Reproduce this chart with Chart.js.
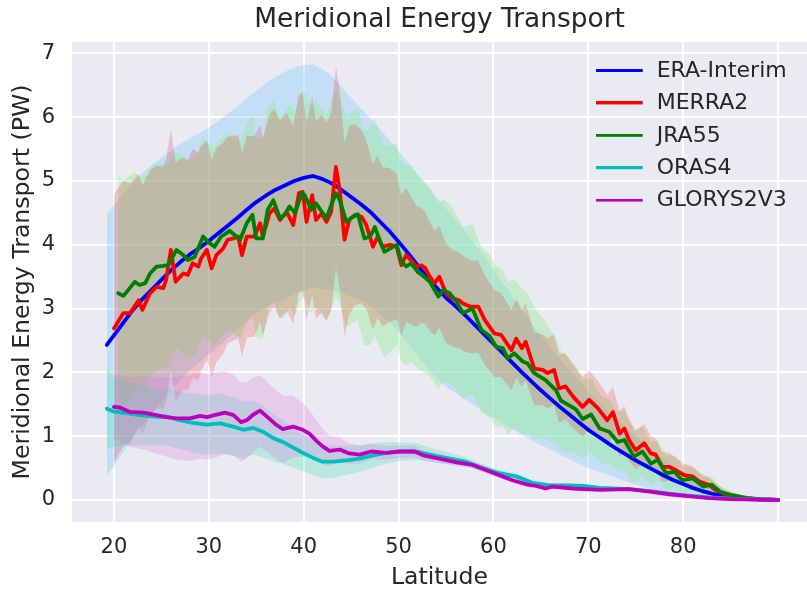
<!DOCTYPE html>
<html><head><meta charset="utf-8">
<script src="https://cdn.jsdelivr.net/npm/chart.js@4.4.0/dist/chart.umd.min.js"></script>
<style>html,body{margin:0;padding:0;background:#fff;overflow:hidden}canvas{display:block}</style>
</head><body>
<canvas id="c" width="807" height="592"></canvas>
<script>
const xTicks = [20,30,40,50,60,70,80,90];
const yTicks = [0,1,2,3,4,5,6,7];
const seriesNames = ['ERA-Interim','MERRA2','JRA55','ORAS4','GLORYS2V3'];

const eraLat = [19.25,20,21,22,23,24,25,26,27,28,29,30,31,32,33,34,35,36,37,38,39,40,41,42,43,44,45,46,47,48,49,50,51,52,53,54,55,56,57,58,59,60,61,62,63,64,65,66,67,68,69,70,71,72,73,74,75,76,77,78,79,80,81,82,83,84,85,86,87,88,89,90];
const eraVal = [2.43,2.58,2.78,2.98,3.15,3.3,3.45,3.6,3.73,3.85,3.95,4.06,4.18,4.3,4.42,4.55,4.67,4.77,4.86,4.93,5.0,5.05,5.08,5.03,4.96,4.86,4.75,4.64,4.52,4.37,4.22,4.05,3.87,3.68,3.5,3.33,3.17,3.04,2.9,2.75,2.6,2.45,2.3,2.15,2.0,1.86,1.72,1.59,1.46,1.34,1.22,1.1,1.0,0.9,0.8,0.71,0.62,0.54,0.46,0.38,0.31,0.25,0.19,0.14,0.1,0.07,0.05,0.03,0.02,0.01,0.004,0];
const eraSpread = [2.05,2.05,2.03,2.0,1.98,1.95,1.92,1.88,1.85,1.82,1.8,1.78,1.77,1.76,1.75,1.75,1.75,1.76,1.77,1.78,1.78,1.77,1.75,1.72,1.68,1.62,1.56,1.5,1.47,1.45,1.43,1.42,1.42,1.42,1.42,1.42,1.4,1.36,1.32,1.27,1.22,1.16,1.1,1.04,0.98,0.92,0.86,0.8,0.75,0.7,0.65,0.6,0.55,0.5,0.46,0.42,0.38,0.34,0.3,0.26,0.22,0.19,0.16,0.13,0.1,0.08,0.06,0.04,0.03,0.02,0.01,0];

const merraLat = [20,21,21.7,22.6,23,23.8,24.5,25.2,25.5,26,26.5,27.3,27.8,28.3,28.9,29.2,29.8,30.3,30.8,31.5,32,32.6,33.1,33.5,34,34.8,35.4,35.7,36.4,36.9,37.5,38.2,38.9,39.5,39.9,40.3,40.9,41.3,41.9,42.4,42.9,43.4,43.8,44.3,44.8,45.4,46.1,46.6,47.3,47.8,48.3,49.1,49.8,50.3,50.8,51.9,52.4,52.8,53.3,53.8,54.3,55,55.7,56.4,56.8,57.6,58.4,59.1,60.1,60.8,61.9,62.4,63,63.4,64.3,65.2,65.7,66.4,66.9,67.6,68.4,69.4,70.1,71,72,72.6,73.3,73.8,74.3,75,75.9,76.6,77.1,77.8,78.5,79.2,80.1,81,81.7,82.7,83.4,84.5,85.9,88,90];
const merraVal = [2.69,2.93,2.93,3.13,2.98,3.24,3.34,3.32,3.45,3.92,3.42,3.55,3.53,3.71,3.66,3.79,3.92,3.63,3.84,3.94,4.08,4.1,4.13,3.84,4.13,4.13,4.34,4.13,4.49,4.57,4.39,4.52,4.31,4.81,4.83,4.36,4.78,4.39,4.49,4.36,4.52,5.22,4.86,4.08,4.39,4.47,4.44,4.31,3.97,4.13,3.97,4.0,3.97,3.68,3.84,3.66,3.68,3.64,3.5,3.4,3.5,3.24,3.16,3.13,3.08,3.03,3.03,2.82,2.61,2.59,2.35,2.53,2.38,2.48,2.06,2.04,1.99,2.04,1.75,1.78,1.62,1.46,1.57,1.44,1.25,1.38,1.04,1.12,0.94,0.78,0.89,0.73,0.71,0.52,0.52,0.47,0.39,0.37,0.29,0.24,0.16,0.08,0.04,0.01,0];
const merraSpread = [2.1,2.08,2.03,1.98,1.95,1.92,1.9,1.9,1.9,1.9,1.88,1.82,1.8,1.8,1.78,1.76,1.72,1.7,1.68,1.66,1.62,1.6,1.6,1.6,1.58,1.57,1.55,1.55,1.55,1.55,1.55,1.55,1.55,1.55,1.55,1.55,1.55,1.55,1.55,1.55,1.55,1.58,1.55,1.52,1.48,1.42,1.36,1.32,1.3,1.28,1.25,1.2,1.14,1.1,1.05,0.95,0.9,0.88,0.85,0.82,0.8,0.78,0.76,0.75,0.75,0.73,0.72,0.7,0.68,0.66,0.63,0.62,0.6,0.6,0.57,0.56,0.55,0.55,0.54,0.52,0.5,0.47,0.46,0.43,0.4,0.39,0.36,0.35,0.33,0.3,0.3,0.27,0.25,0.23,0.22,0.2,0.18,0.16,0.14,0.12,0.1,0.07,0.04,0.01,0];

const jraLat = [20.45,21,21.5,22.2,22.7,23.3,23.8,24.5,25.2,25.7,26.6,27.3,27.8,28.5,29.4,29.9,30.6,31.3,32.2,32.9,33.3,34,34.6,35,35.7,36.2,36.8,37.5,38,38.5,39.1,39.8,40.1,40.8,41.3,41.9,42.4,42.9,43.4,43.8,44.5,45,45.7,46.4,47,47.5,48,48.5,49.1,49.8,50.3,50.8,51.3,52,52.7,53.3,54.2,54.7,55.4,56.1,56.8,57.8,58.7,59.6,60.3,61,61.5,62.2,63.1,63.6,64.3,65.5,66.6,67.1,67.8,68.7,69.4,70.3,71.2,72.2,73.1,73.8,74.8,75.7,76.6,77.3,78.2,79.1,79.9,81,82.1,83,83.9,85,86.8,88.5,90];
const jraVal = [3.24,3.2,3.29,3.42,3.37,3.4,3.55,3.66,3.67,3.68,3.92,3.84,3.76,3.81,4.13,4.05,3.97,4.13,4.22,4.13,4.08,4.34,4.47,4.1,4.1,4.55,4.7,4.42,4.47,4.6,4.5,4.81,4.78,4.55,4.65,4.52,4.42,4.62,4.81,4.7,4.36,4.42,4.48,4.1,4.13,4.28,4.08,3.89,3.94,4.0,3.74,3.66,3.71,3.58,3.5,3.42,3.19,3.29,3.24,3.11,2.93,3.0,2.67,2.57,2.4,2.38,2.22,2.3,2.17,2.14,1.99,1.88,1.72,1.56,1.5,1.42,1.27,1.34,1.12,1.07,0.91,0.94,0.68,0.76,0.57,0.63,0.42,0.44,0.31,0.34,0.21,0.24,0.13,0.08,0.03,0.01,0];
const jraSpread = [1.83,1.8,1.78,1.72,1.7,1.68,1.65,1.62,1.6,1.58,1.55,1.55,1.55,1.55,1.55,1.55,1.55,1.55,1.55,1.55,1.55,1.56,1.56,1.56,1.57,1.57,1.57,1.58,1.6,1.6,1.6,1.62,1.62,1.62,1.62,1.62,1.62,1.62,1.62,1.62,1.65,1.66,1.66,1.68,1.7,1.7,1.68,1.66,1.62,1.58,1.56,1.56,1.55,1.52,1.5,1.48,1.45,1.43,1.4,1.37,1.35,1.33,1.3,1.28,1.26,1.22,1.2,1.17,1.13,1.1,1.03,0.92,0.82,0.78,0.75,0.68,0.62,0.58,0.54,0.5,0.47,0.46,0.42,0.38,0.34,0.31,0.28,0.25,0.22,0.18,0.15,0.12,0.09,0.06,0.03,0.01,0];

const orasLat = [19.25,19.9,21.3,22.7,24.1,25,25.5,26.9,28.3,29.8,31.2,32.6,33.6,34.7,35.7,36.8,37.8,38.9,39.9,41,42,43.1,44.5,45.9,47.3,48.7,50.1,51.9,53.6,55.4,57.1,58.9,60.6,62.4,64.1,65.9,67.6,69.5,71.2,74.3,76.5,78.5,80.5,82.7,85,87.5,90];
const orasVal = [1.43,1.39,1.36,1.33,1.31,1.3,1.31,1.25,1.21,1.18,1.2,1.15,1.1,1.13,1.07,0.97,0.91,0.82,0.74,0.66,0.6,0.6,0.62,0.65,0.7,0.74,0.76,0.76,0.7,0.65,0.6,0.5,0.42,0.37,0.27,0.23,0.23,0.22,0.19,0.17,0.14,0.1,0.07,0.04,0.02,0.01,0];
const orasSpread = [0.63,0.55,0.5,0.47,0.45,0.45,0.45,0.45,0.46,0.47,0.47,0.46,0.45,0.42,0.4,0.37,0.34,0.31,0.29,0.27,0.26,0.25,0.23,0.21,0.19,0.17,0.15,0.13,0.11,0.09,0.07,0.06,0.05,0.045,0.04,0.035,0.03,0.03,0.025,0.02,0.02,0.015,0.01,0.01,0.005,0,0];

const glorysLat = [20,20.6,21.7,23.1,24.5,25.5,26.6,28,29.1,29.8,30.6,31.7,32.6,33.4,34,34.7,35.4,36.1,37.1,37.8,38.9,39.9,40.6,41.4,42,42.7,43.8,44.8,45.9,47.1,48.7,50.1,51.7,52.6,54.3,56.1,57.8,59.2,60.6,62,63.6,64.5,65.5,66.2,68.4,71.2,74.3,76.5,78.5,80.5,82.7,85,87.5,90];
const glorysVal = [1.46,1.45,1.38,1.37,1.33,1.3,1.28,1.28,1.32,1.3,1.33,1.37,1.33,1.22,1.25,1.34,1.4,1.31,1.18,1.11,1.15,1.1,1.04,0.92,0.84,0.77,0.79,0.73,0.71,0.76,0.74,0.76,0.76,0.7,0.65,0.59,0.55,0.47,0.39,0.31,0.24,0.22,0.18,0.21,0.18,0.16,0.17,0.13,0.09,0.06,0.03,0.015,0.005,0];
const glorysSpread = [0.5,0.52,0.55,0.58,0.6,0.62,0.65,0.67,0.67,0.67,0.67,0.65,0.63,0.62,0.6,0.58,0.56,0.55,0.54,0.53,0.48,0.42,0.37,0.32,0.28,0.24,0.19,0.16,0.14,0.12,0.11,0.1,0.09,0.08,0.07,0.06,0.05,0.05,0.04,0.04,0.03,0.03,0.03,0.03,0.025,0.02,0.02,0.015,0.01,0.01,0.005,0,0,0];

const lineColors = ['#0000ff','#ff0000','#008000','#00bfbf','#bf00bf'];
const bandColors = ['rgba(135,206,250,0.38)','rgba(255,0,0,0.18)','rgba(144,238,144,0.40)','rgba(64,224,180,0.28)','rgba(218,112,214,0.25)'];
const bandRank = [0,2,1,3,4];

const series = [
  [eraLat, eraVal, eraSpread],
  [merraLat, merraVal, merraSpread],
  [jraLat, jraVal, jraSpread],
  [orasLat, orasVal, orasSpread],
  [glorysLat, glorysVal, glorysSpread]
];

function legendImg(color){
  const c = document.createElement('canvas');
  c.width = 50; c.height = 4;
  const g = c.getContext('2d');
  g.fillStyle = color; g.fillRect(0,0,47,3);
  return c;
}

const datasets = [];
series.forEach((s,k)=>{
  datasets.push({
    label: seriesNames[k],
    data: s[0].map((x,i)=>({x:x, y:s[1][i]})),
    borderColor: lineColors[k], backgroundColor: lineColors[k],
    borderWidth: 3.8, pointRadius: 0, pointHoverRadius: 0,
    fill: false, order: 5-k, tension: 0, borderJoinStyle: 'round', borderCapStyle: 'round',
    pointStyle: legendImg(lineColors[k])
  });
});
series.forEach((s,k)=>{
  const upIdx = datasets.length;
  datasets.push({
    label: '', data: s[0].map((x,i)=>({x:x, y:s[1][i]+s[2][i]})),
    borderColor: 'rgba(0,0,0,0)', borderWidth: 0, pointRadius: 0, pointHoverRadius: 0,
    backgroundColor: bandColors[k], fill: upIdx+1, order: 100-10*bandRank[k]
  });
  datasets.push({
    label: '', data: s[0].map((x,i)=>({x:x, y:s[1][i]-s[2][i]})),
    borderColor: 'rgba(0,0,0,0)', borderWidth: 0, pointRadius: 0, pointHoverRadius: 0,
    backgroundColor: 'rgba(0,0,0,0)', fill: false, order: 100-10*bandRank[k]-1
  });
});

const bgPlugin = {
  id: 'bg',
  beforeDraw(chart){
    const {ctx, chartArea:a} = chart;
    ctx.save();
    ctx.fillStyle = '#ffffff'; ctx.fillRect(0,0,chart.width,chart.height);
    ctx.fillStyle = '#EAEAF2'; ctx.fillRect(a.left, a.top, a.right-a.left, a.bottom-a.top);
    ctx.restore();
  },
  afterLayout(chart){
    const lg = chart.legend;
    if (lg) { lg.left = 585.3; lg.top = 49.6; }
  }
};

const txt = '#262626';
const FONT = 'DejaVu Sans';
Chart.defaults.font.family = FONT;
Chart.defaults.color = txt;

new Chart(document.getElementById('c'), {
  type: 'line',
  data: { datasets },
  plugins: [bgPlugin],
  options: {
    responsive: false, animation: false, devicePixelRatio: 1,
    layout: { padding: 0 },
    interaction: { mode: null },
    plugins: {
      filler: { drawTime: 'beforeDatasetsDraw' },
      tooltip: { enabled: false },
      title: {
        display: true, text: 'Meridional Energy Transport', fullSize: false,
        color: txt, font: { size: 26.4, weight: 'normal', family: FONT, lineHeight: 1.2 },
        padding: { top: 4.5, bottom: 5.8 }
      },
      legend: {
        display: true, position: 'chartArea', align: 'start',
        labels: {
          usePointStyle: true, pointStyleWidth: 50, color: txt,
          font: { size: 22, family: FONT }, padding: 10.4,
          filter: (item) => item.datasetIndex < 5,
          sort: (a,b) => a.datasetIndex - b.datasetIndex
        }
      }
    },
    scales: {
      x: {
        type: 'linear', min: 15.58, max: 93.05,
        afterBuildTicks: (s) => { s.ticks = xTicks.map(v=>({value:v})); },
        afterFit: (s) => { s.height = 70; },
        ticks: { autoSkip: false, maxRotation: 0, padding: 13, color: txt,
          font: { size: 21, family: FONT },
          callback: (v) => (v === 90 ? '' : String(v)) },
        grid: { color: '#ffffff', lineWidth: 2, drawTicks: false },
        border: { display: false },
        title: { display: true, text: 'Latitude', color: txt,
          font: { size: 23.6, family: FONT, lineHeight: 1.2 }, padding: { top: 0, bottom: 0 } }
      },
      y: {
        type: 'linear', min: -0.345, max: 7.18,
        afterBuildTicks: (s) => { s.ticks = yTicks.map(v=>({value:v})); },
        afterFit: (s) => { s.width = 72; },
        ticks: { padding: 17, color: txt, font: { size: 21, family: FONT },
          callback: (v) => String(v) },
        grid: { color: '#ffffff', lineWidth: 2, drawTicks: false },
        border: { display: false },
        title: { display: true, text: 'Meridional Energy Transport (PW)', color: txt,
          font: { size: 23.6, family: FONT, lineHeight: 1.2 }, padding: { top: 9, bottom: 0 } }
      }
    }
  }
});
</script>
</body></html>
